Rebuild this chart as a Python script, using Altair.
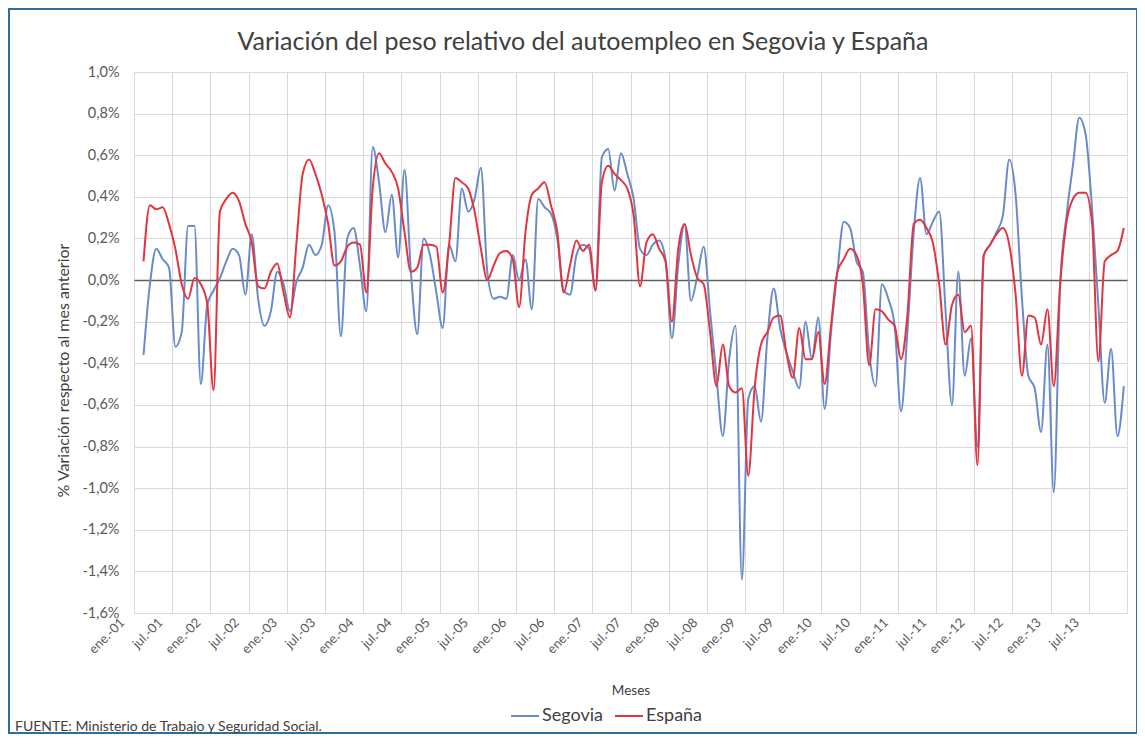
import altair as alt
import pandas as pd

# ---- categorías (meses) y etiquetas ----
meses_abbr = ["ene.", "feb.", "mar.", "abr.", "may.", "jun.",
              "jul.", "ago.", "sep.", "oct.", "nov.", "dic."]
anios = [f"{y:02d}" for y in range(1, 14)]
categorias = [f"{m}-{a}" for a in anios for m in meses_abbr]   # ene.-01 ... dic.-13
etiquetas_x = [categorias[i] for i in range(0, len(categorias), 6)]  # ene.-01, jul.-01, ...
ticks_y = [-1.6, -1.4, -1.2, -1.0, -0.8, -0.6, -0.4, -0.2, 0.0, 0.2, 0.4, 0.6, 0.8, 1.0]

# ---- series (% variación respecto al mes anterior), feb.-01 ... dic.-13 ----
segovia = [
    -0.36, -0.02, 0.15, 0.10, 0.06, -0.32, -0.25, 0.26, 0.26, -0.50, -0.12,
    -0.05, 0.01, 0.09, 0.15, 0.12, -0.07, 0.22, -0.09, -0.22, -0.15, 0.04, -0.02,
    -0.15, -0.01, 0.06, 0.17, 0.12, 0.17, 0.36, 0.23, -0.27, 0.20, 0.25, 0.07,
    -0.15, 0.64, 0.47, 0.23, 0.41, 0.11, 0.53, 0.04, -0.26, 0.20, 0.12, -0.06,
    -0.23, 0.17, 0.09, 0.44, 0.33, 0.39, 0.54, 0.04, -0.09, -0.08, -0.09, 0.12,
    0.00, 0.10, -0.14, 0.39, 0.35, 0.32, 0.20, -0.05, -0.07, 0.12, 0.17, 0.15,
    -0.05, 0.59, 0.63, 0.43, 0.61, 0.51, 0.39, 0.15, 0.12, 0.17, 0.19, 0.10,
    -0.28, 0.07, 0.27, -0.10, 0.02, 0.16, -0.15, -0.46, -0.75, -0.38, -0.22, -1.44,
    -0.57, -0.51, -0.68, -0.28, -0.04, -0.23, -0.35, -0.44, -0.52, -0.20, -0.38, -0.18,
    -0.62, -0.25, 0.04, 0.28, 0.25, 0.09, 0.04, -0.35, -0.51, -0.02, -0.09, -0.22,
    -0.63, -0.25, 0.23, 0.49, 0.22, 0.28, 0.33, -0.15, -0.60, 0.04, -0.46, -0.28,
    -0.80, 0.12, 0.17, 0.23, 0.31, 0.58, 0.41, -0.09, -0.46, -0.52, -0.73, -0.31,
    -1.02, -0.02, 0.31, 0.55, 0.78, 0.70, 0.35, -0.12, -0.59, -0.33, -0.75, -0.51,
]
espana = [
    0.09, 0.36, 0.34, 0.35, 0.27, 0.15, -0.02, -0.09, 0.01, -0.02, -0.11,
    -0.53, 0.33, 0.39, 0.42, 0.38, 0.27, 0.18, -0.03, -0.04, 0.04, 0.08, -0.06,
    -0.18, 0.17, 0.51, 0.58, 0.51, 0.41, 0.27, 0.07, 0.09, 0.16, 0.18, 0.17,
    -0.06, 0.44, 0.61, 0.56, 0.52, 0.44, 0.23, 0.04, 0.06, 0.17, 0.17, 0.16,
    -0.06, 0.17, 0.49, 0.47, 0.44, 0.33, 0.15, 0.00, 0.07, 0.13, 0.14, 0.10,
    -0.13, 0.23, 0.41, 0.44, 0.47, 0.36, 0.23, -0.06, 0.07, 0.19, 0.14, 0.17,
    -0.05, 0.47, 0.55, 0.51, 0.48, 0.44, 0.31, -0.03, 0.18, 0.22, 0.15, 0.09,
    -0.20, 0.15, 0.27, 0.12, 0.01, -0.02, -0.25, -0.51, -0.31, -0.51, -0.54, -0.52,
    -0.94, -0.52, -0.31, -0.25, -0.18, -0.17, -0.35, -0.47, -0.23, -0.38, -0.38, -0.25,
    -0.50, -0.22, 0.04, 0.10, 0.15, 0.12, -0.02, -0.41, -0.14, -0.15, -0.19, -0.22,
    -0.38, -0.17, 0.27, 0.29, 0.25, 0.18, -0.02, -0.31, -0.12, -0.07, -0.25, -0.22,
    -0.89, 0.12, 0.17, 0.22, 0.25, 0.17, -0.07, -0.46, -0.17, -0.18, -0.31, -0.14,
    -0.51, -0.02, 0.28, 0.39, 0.42, 0.42, 0.28, -0.39, 0.09, 0.12, 0.14, 0.25,
]

series = ["Segovia", "España"]
colores = ["#6a8bca", "#e3343f"]

titulo = "Variación del peso relativo del autoempleo en Segovia y España"
nota = "FUENTE: Ministerio de Trabajo y Seguridad Social."

rows = []
for nombre, valores in zip(series, [segovia, espana]):
    for i, v in enumerate(valores):
        rows.append({"m": i + 1, "mes": categorias[i + 1], "valor": v, "serie": nombre})
df = pd.DataFrame(rows)

FONT = "Lato"
W, H = 993, 541

label_expr_x = "[" + ",".join(f"'{l}'" for l in etiquetas_x) + "][round((datum.value + 0.5) / 6)]"

x_enc = alt.X(
    "m:Q",
    scale=alt.Scale(domain=[-0.5, len(categorias) - 0.5], nice=False, zero=False),
    axis=alt.Axis(
        values=[6 * k - 0.5 for k in range(len(etiquetas_x))],
        labelExpr=label_expr_x, labelOverlap=False,
        labelAngle=-45, labelAlign="right", labelBaseline="middle",
        labelOffset=-12, labelPadding=7,
        labelFontSize=13, labelColor="#595959", labelFont=FONT,
        ticks=False, domain=False,
        grid=True, gridColor="#d9d9d9", gridWidth=1,
        title="Meses", titleFontSize=13.5, titleFontWeight="normal",
        titleColor="#404040", titleFont=FONT,
        titleY=77, titleBaseline="middle",
    ),
)
y_enc = alt.Y(
    "valor:Q",
    scale=alt.Scale(domain=[-1.6, 1.0], nice=False, zero=False),
    axis=alt.Axis(
        values=ticks_y,
        labelExpr="replace(replace(format(datum.value, '.1f'), '.', ','), '\u2212', '-') + '%'",
        labelFontSize=14.5, labelColor="#595959", labelFont=FONT, labelPadding=15,
        ticks=False, domain=False,
        grid=True,
        gridColor={"condition": {"test": "datum.value === 0", "value": "#5f5f5f"}, "value": "#d9d9d9"},
        gridWidth={"condition": {"test": "datum.value === 0", "value": 1.6}, "value": 1},
        title="% Variación respecto al mes anterior",
        titleFontSize=16, titleFontWeight="normal", titleColor="#404040", titleFont=FONT,
        titleX=-71, titleY=298, titleAngle=-90, titleAlign="center", titleBaseline="middle",
    ),
)
color_enc = alt.Color(
    "serie:N",
    scale=alt.Scale(domain=series, range=colores),
    legend=alt.Legend(
        orient="none", legendX=376, legendY=629, direction="horizontal",
        title=None, symbolType="stroke", symbolSize=784, symbolStrokeWidth=2,
        labelFontSize=18, labelColor="#404040", labelFont=FONT,
        labelOffset=2, columnPadding=8,
    ),
)

base = alt.Chart(df).mark_line(interpolate="monotone", strokeWidth=2).encode(
    x=x_enc, y=y_enc, color=color_enc
)
linea_seg = base.transform_filter(alt.datum.serie == "Segovia")
linea_esp = base.transform_filter(alt.datum.serie == "España")

marco = alt.Chart(alt.Data(values=[{}])).mark_rect(
    fillOpacity=0, stroke="#2e6e9e", strokeWidth=2
).encode(x=alt.value(-125), x2=alt.value(1003), y=alt.value(-63), y2=alt.value(661))

texto_titulo = alt.Chart(alt.Data(values=[{}])).mark_text(
    align="center", baseline="middle", fontSize=25, color="#404040", font=FONT
).encode(x=alt.value(449), y=alt.value(-30), text=alt.value(titulo))

fuente = alt.Chart(alt.Data(values=[{}])).mark_text(
    align="left", baseline="middle", fontSize=14, color="#404040", font=FONT
).encode(x=alt.value(-119), y=alt.value(655), text=alt.value(nota))

chart = alt.layer(linea_seg, linea_esp, marco, texto_titulo, fuente).properties(
    width=W, height=H,
    padding={"left": 126, "top": 64, "right": 10, "bottom": 122},
    autosize=alt.AutoSizeParams(type="none"),
).configure_view(stroke="#8c8c8c", strokeWidth=1.5).configure(background="white")

chart.save("out.html", embed_options={"renderer": "svg", "actions": False})
